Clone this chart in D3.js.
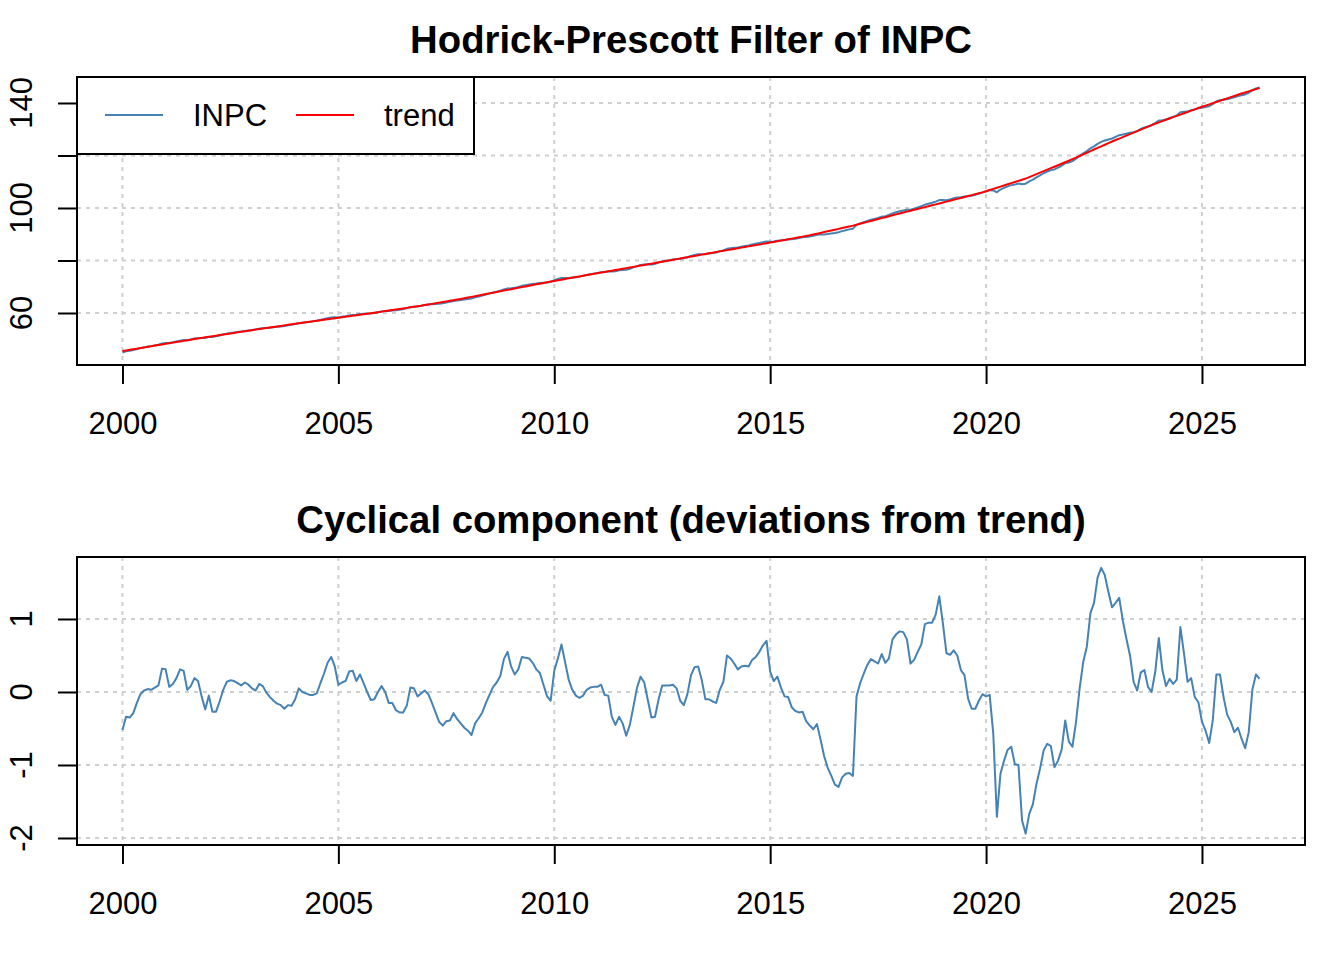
<!DOCTYPE html>
<html>
<head>
<meta charset="utf-8">
<script src="https://cdn.jsdelivr.net/npm/d3@7"></script>
<style>
  body { margin: 0; background: #fff; }
  svg { display: block; font-family: "Liberation Sans", Arial, Helvetica, sans-serif; }
</style>
</head>
<body>
<div id="chart"></div>
<script>
// monthly series start Jan 2000
const START_YEAR = 2000;

// HP trend of INPC, one row per year (Jan..Dec), 2026 up to May
const trendValues = [
  45.50, 45.73, 45.96, 46.19, 46.42, 46.65, 46.89, 47.12, 47.35, 47.58, 47.81, 48.04,
  48.26, 48.49, 48.71, 48.94, 49.16, 49.38, 49.61, 49.83, 50.06, 50.28, 50.51, 50.73,
  50.94, 51.15, 51.37, 51.58, 51.79, 52.00, 52.21, 52.42, 52.64, 52.85, 53.06, 53.27,
  53.47, 53.67, 53.87, 54.07, 54.27, 54.48, 54.68, 54.88, 55.08, 55.28, 55.48, 55.68,
  55.88, 56.07, 56.27, 56.46, 56.66, 56.85, 57.05, 57.24, 57.44, 57.63, 57.83, 58.02,
  58.21, 58.40, 58.59, 58.78, 58.97, 59.17, 59.36, 59.55, 59.74, 59.93, 60.12, 60.31,
  60.52, 60.72, 60.93, 61.13, 61.34, 61.54, 61.75, 61.95, 62.16, 62.36, 62.57, 62.77,
  63.01, 63.24, 63.48, 63.71, 63.95, 64.19, 64.42, 64.66, 64.89, 65.13, 65.36, 65.60,
  65.87, 66.14, 66.40, 66.67, 66.94, 67.21, 67.47, 67.74, 68.01, 68.28, 68.54, 68.81,
  69.07, 69.34, 69.60, 69.86, 70.12, 70.39, 70.65, 70.91, 71.17, 71.44, 71.70, 71.96,
  72.21, 72.46, 72.70, 72.95, 73.20, 73.45, 73.69, 73.94, 74.19, 74.44, 74.68, 74.93,
  75.17, 75.41, 75.65, 75.89, 76.13, 76.37, 76.61, 76.85, 77.09, 77.33, 77.57, 77.81,
  78.06, 78.30, 78.55, 78.80, 79.04, 79.29, 79.54, 79.78, 80.03, 80.28, 80.52, 80.77,
  81.02, 81.26, 81.51, 81.75, 82.00, 82.24, 82.49, 82.73, 82.98, 83.22, 83.47, 83.71,
  83.95, 84.19, 84.42, 84.66, 84.90, 85.14, 85.38, 85.62, 85.86, 86.09, 86.33, 86.57,
  86.82, 87.07, 87.33, 87.58, 87.83, 88.08, 88.33, 88.58, 88.84, 89.09, 89.34, 89.59,
  89.90, 90.21, 90.51, 90.82, 91.13, 91.44, 91.74, 92.05, 92.36, 92.67, 92.97, 93.28,
  93.64, 94.00, 94.35, 94.71, 95.07, 95.43, 95.78, 96.14, 96.50, 96.86, 97.21, 97.57,
  97.92, 98.26, 98.61, 98.95, 99.30, 99.64, 99.99, 100.33, 100.68, 101.02, 101.37, 101.71,
  102.06, 102.42, 102.77, 103.13, 103.48, 103.84, 104.19, 104.54, 104.90, 105.25, 105.61, 105.96,
  106.40, 106.84, 107.27, 107.71, 108.15, 108.59, 109.02, 109.46, 109.90, 110.34, 110.77, 111.21,
  111.78, 112.34, 112.91, 113.47, 114.04, 114.60, 115.17, 115.73, 116.30, 116.86, 117.43, 117.99,
  118.60, 119.21, 119.82, 120.43, 121.04, 121.65, 122.27, 122.88, 123.49, 124.10, 124.71, 125.32,
  125.89, 126.45, 127.02, 127.58, 128.15, 128.71, 129.28, 129.84, 130.41, 130.97, 131.54, 132.10,
  132.60, 133.10, 133.60, 134.10, 134.60, 135.09, 135.59, 136.09, 136.59, 137.09, 137.59, 138.09,
  138.55, 139.01, 139.47, 139.93, 140.39, 140.85, 141.31, 141.76, 142.22, 142.68, 143.14, 143.60,
  144.02, 144.44, 144.86, 145.28, 145.70
];

// cyclical component (INPC - trend), same months
const cycleValues = [
  -0.52, -0.34, -0.35, -0.29, -0.15, -0.03, 0.02, 0.04, 0.03, 0.06, 0.09, 0.32,
  0.31, 0.07, 0.11, 0.19, 0.31, 0.29, 0.03, 0.08, 0.19, 0.15, -0.06, -0.24,
  -0.05, -0.27, -0.27, -0.13, 0.03, 0.14, 0.16, 0.15, 0.12, 0.09, 0.13, 0.10,
  0.05, 0.02, 0.11, 0.08, -0.01, -0.07, -0.12, -0.16, -0.18, -0.23, -0.18, -0.19,
  -0.10, 0.05, 0.00, -0.02, -0.04, -0.04, -0.02, 0.12, 0.25, 0.40, 0.48, 0.35,
  0.10, 0.13, 0.15, 0.28, 0.29, 0.15, 0.24, 0.12, 0.00, -0.11, -0.10, 0.00,
  0.08, 0.00, -0.15, -0.15, -0.25, -0.28, -0.28, -0.19, 0.06, 0.05, -0.06, -0.02,
  0.02, -0.03, -0.15, -0.28, -0.41, -0.46, -0.40, -0.39, -0.29, -0.37, -0.43, -0.49,
  -0.53, -0.59, -0.43, -0.36, -0.28, -0.15, -0.04, 0.07, 0.13, 0.22, 0.45, 0.55,
  0.35, 0.24, 0.31, 0.48, 0.47, 0.46, 0.40, 0.31, 0.26, 0.10, -0.06, -0.12,
  0.29, 0.46, 0.65, 0.41, 0.17, 0.03, -0.05, -0.08, -0.05, 0.03, 0.06, 0.07,
  0.07, 0.10, -0.04, -0.05, -0.34, -0.45, -0.34, -0.43, -0.60, -0.45, -0.20, 0.06,
  0.21, 0.13, -0.11, -0.35, -0.34, -0.10, 0.09, 0.09, 0.09, 0.10, 0.05, -0.12,
  -0.18, -0.03, 0.23, 0.34, 0.35, 0.16, -0.10, -0.10, -0.13, -0.15, 0.03, 0.14,
  0.50, 0.46, 0.39, 0.31, 0.35, 0.36, 0.35, 0.44, 0.48, 0.55, 0.64, 0.70,
  0.28, 0.15, 0.21, 0.06, -0.06, -0.07, -0.21, -0.26, -0.28, -0.27, -0.40, -0.46,
  -0.51, -0.44, -0.65, -0.88, -1.04, -1.15, -1.27, -1.30, -1.17, -1.12, -1.11, -1.15,
  -0.06, 0.12, 0.25, 0.37, 0.45, 0.42, 0.39, 0.52, 0.40, 0.46, 0.72, 0.79,
  0.83, 0.82, 0.72, 0.39, 0.44, 0.55, 0.65, 0.93, 0.95, 0.95, 1.06, 1.31,
  0.94, 0.53, 0.51, 0.57, 0.50, 0.30, 0.23, -0.09, -0.23, -0.23, -0.12, -0.03,
  -0.06, -0.04, -0.57, -1.71, -1.12, -0.94, -0.79, -0.75, -0.99, -1.00, -1.76, -1.94,
  -1.67, -1.54, -1.26, -1.05, -0.80, -0.71, -0.74, -1.03, -0.94, -0.79, -0.39, -0.68,
  -0.75, -0.41, 0.05, 0.41, 0.62, 1.08, 1.22, 1.57, 1.70, 1.60, 1.37, 1.16,
  1.22, 1.29, 0.98, 0.73, 0.50, 0.14, 0.02, 0.27, 0.30, 0.07, 0.00, 0.27,
  0.74, 0.30, 0.08, 0.18, 0.11, 0.17, 0.89, 0.53, 0.14, 0.19, -0.07, -0.14,
  -0.41, -0.53, -0.70, -0.39, 0.24, 0.24, -0.07, -0.31, -0.41, -0.55, -0.49, -0.64,
  -0.77, -0.55, 0.03, 0.24, 0.18
];

// axis ticks
const X_TICKS = [2000, 2005, 2010, 2015, 2020, 2025];
const TOP_Y_TICKS = [60, 80, 100, 120, 140];
const TOP_Y_LABELS = [60, 100, 140];
const BOTTOM_Y_TICKS = [-2, -1, 0, 1];

const LEGEND_ITEMS = [
  { label: "INPC", color: "steelblue" },
  { label: "trend", color: "red" }
];

const W = 1344, H = 960;
const PLOT = { left: 77, right: 1305 };
const PANEL_H = 288;

// INPC is trend plus cycle
const inpcValues = trendValues.map((t, i) => t + cycleValues[i]);
const toTime = i => START_YEAR + i / 12;

const svg = d3.select("#chart").append("svg")
  .attr("width", W)
  .attr("height", H);

const x = d3.scaleLinear()
  .domain([1998.947, 2027.386])
  .range([PLOT.left, PLOT.right]);

function drawPanel(top, title, yDomain, yTicks, yLabels, series) {
  const y = d3.scaleLinear().domain(yDomain).range([top + PANEL_H, top]);
  const g = svg.append("g");

  // grid
  g.selectAll(".vgrid").data(X_TICKS).enter().append("line")
    .attr("x1", d => x(d)).attr("x2", d => x(d))
    .attr("y1", top).attr("y2", top + PANEL_H)
    .attr("stroke", "#cfcfcf").attr("stroke-width", 2)
    .attr("stroke-dasharray", "4,5");
  g.selectAll(".hgrid").data(yTicks).enter().append("line")
    .attr("x1", PLOT.left).attr("x2", PLOT.right)
    .attr("y1", d => y(d)).attr("y2", d => y(d))
    .attr("stroke", "#cfcfcf").attr("stroke-width", 2)
    .attr("stroke-dasharray", "4,5");

  // lines
  series.forEach(s => {
    g.append("path")
      .datum(s.values)
      .attr("fill", "none")
      .attr("stroke", s.color)
      .attr("stroke-width", 2)
      .attr("stroke-linejoin", "round")
      .attr("d", d3.line().x((d, i) => x(toTime(i))).y(d => y(d)));
  });

  // box
  g.append("rect")
    .attr("x", PLOT.left).attr("y", top)
    .attr("width", PLOT.right - PLOT.left).attr("height", PANEL_H)
    .attr("fill", "none").attr("stroke", "#000").attr("stroke-width", 2);

  // x axis
  const xAxis = g.append("g")
    .attr("transform", `translate(0,${top + PANEL_H})`)
    .call(d3.axisBottom(x).tickValues(X_TICKS).tickSize(19).tickPadding(28).tickFormat(d3.format("d")));
  xAxis.select(".domain").remove();
  xAxis.selectAll("line").attr("stroke", "#000").attr("stroke-width", 2);
  xAxis.selectAll("text").attr("font-size", 31).attr("fill", "#000")
    .attr("font-family", "Liberation Sans, Arial, sans-serif");

  // y axis
  const yAxis = g.append("g")
    .attr("transform", `translate(${PLOT.left},0)`)
    .call(d3.axisLeft(y).tickValues(yTicks).tickSize(19).tickFormat(() => ""));
  yAxis.select(".domain").remove();
  yAxis.selectAll("line").attr("stroke", "#000").attr("stroke-width", 2);

  g.selectAll(".ylab").data(yLabels).enter().append("text")
    .attr("transform", d => `translate(32,${y(d)}) rotate(-90)`)
    .attr("text-anchor", "middle")
    .attr("font-size", 31)
    .attr("fill", "#000")
    .text(d => d);

  // title
  g.append("text")
    .attr("x", (PLOT.left + PLOT.right) / 2)
    .attr("y", top - 24)
    .attr("text-anchor", "middle")
    .attr("font-size", 38.3)
    .attr("font-weight", "bold")
    .text(title);
}

drawPanel(77, "Hodrick-Prescott Filter of INPC", [40.19, 149.9], TOP_Y_TICKS, TOP_Y_LABELS, [
  { values: inpcValues, color: "steelblue" },
  { values: trendValues, color: "red" }
]);

drawPanel(557, "Cyclical component (deviations from trend)", [-2.096, 1.849], BOTTOM_Y_TICKS, BOTTOM_Y_TICKS, [
  { values: cycleValues, color: "steelblue" }
]);

// legend (horizontal, top-left)
const legend = svg.append("g");
legend.append("rect")
  .attr("x", 77).attr("y", 77).attr("width", 397).attr("height", 77)
  .attr("fill", "#fff").attr("stroke", "#000").attr("stroke-width", 2);
const legendX = [105, 296];
LEGEND_ITEMS.forEach((d, i) => {
  legend.append("line")
    .attr("x1", legendX[i]).attr("x2", legendX[i] + 58)
    .attr("y1", 115).attr("y2", 115)
    .attr("stroke", d.color).attr("stroke-width", 2);
  legend.append("text")
    .attr("x", legendX[i] + 88).attr("y", 126)
    .attr("font-size", 31)
    .text(d.label);
});
</script>
</body>
</html>
